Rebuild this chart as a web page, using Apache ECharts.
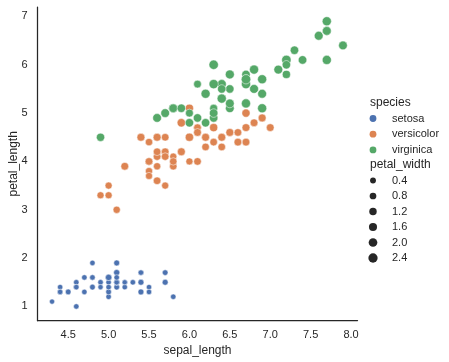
<!DOCTYPE html>
<html><head><meta charset="utf-8">
<script src="https://cdn.jsdelivr.net/npm/echarts@6/dist/echarts.min.js"></script>
<style>html,body{margin:0;padding:0;background:#fff}#c{width:449px;height:362px}</style>
</head><body><div id="c"></div>
<script>
const species = ['setosa', 'versicolor', 'virginica'];
const colors = ['#4c72b0', '#dd8452', '#55a868'];
const xTicks = [4.5, 5.0, 5.5, 6.0, 6.5, 7.0, 7.5, 8.0];
const yTicks = [1, 2, 3, 4, 5, 6, 7];
const sizeLegendValues = [0.4, 0.8, 1.2, 1.6, 2.0, 2.4];

const setosaSepalLength = [5.1,4.9,4.7,4.6,5.0,5.4,4.6,5.0,4.4,4.9,5.4,4.8,4.8,4.3,5.8,5.7,5.4,5.1,5.7,5.1,5.4,5.1,4.6,5.1,4.8,5.0,5.0,5.2,5.2,4.7,4.8,5.4,5.2,5.5,4.9,5.0,5.5,4.9,4.4,5.1,5.0,4.5,4.4,5.0,5.1,4.8,5.1,4.6,5.3,5.0];
const setosaPetalLength = [1.4,1.4,1.3,1.5,1.4,1.7,1.4,1.5,1.4,1.5,1.5,1.6,1.4,1.1,1.2,1.5,1.3,1.4,1.7,1.5,1.7,1.5,1.0,1.7,1.9,1.6,1.6,1.5,1.4,1.6,1.6,1.5,1.5,1.4,1.5,1.2,1.3,1.4,1.3,1.5,1.3,1.3,1.3,1.6,1.9,1.4,1.6,1.4,1.5,1.4];
const setosaPetalWidth = [0.2,0.2,0.2,0.2,0.2,0.4,0.3,0.2,0.2,0.1,0.2,0.2,0.1,0.1,0.2,0.4,0.4,0.3,0.3,0.3,0.2,0.4,0.2,0.5,0.2,0.2,0.4,0.2,0.2,0.2,0.2,0.4,0.1,0.2,0.2,0.2,0.2,0.1,0.2,0.2,0.3,0.3,0.2,0.6,0.4,0.3,0.2,0.2,0.2,0.2];

const versicolorSepalLength = [7.0,6.4,6.9,5.5,6.5,5.7,6.3,4.9,6.6,5.2,5.0,5.9,6.0,6.1,5.6,6.7,5.6,5.8,6.2,5.6,5.9,6.1,6.3,6.1,6.4,6.6,6.8,6.7,6.0,5.7,5.5,5.5,5.8,6.0,5.4,6.0,6.7,6.3,5.6,5.5,5.5,6.1,5.8,5.0,5.6,5.7,5.7,6.2,5.1,5.7];
const versicolorPetalLength = [4.7,4.5,4.9,4.0,4.6,4.5,4.7,3.3,4.6,3.9,3.5,4.2,4.0,4.7,3.6,4.4,4.5,4.1,4.5,3.9,4.8,4.0,4.9,4.7,4.3,4.4,4.8,5.0,4.5,3.5,3.8,3.7,3.9,5.1,4.5,4.5,4.7,4.4,4.1,4.0,4.4,4.6,4.0,3.3,4.2,4.2,4.2,4.3,3.0,4.1];
const versicolorPetalWidth = [1.4,1.5,1.5,1.3,1.5,1.3,1.6,1.0,1.3,1.4,1.0,1.5,1.0,1.4,1.3,1.4,1.5,1.0,1.5,1.1,1.8,1.3,1.5,1.2,1.3,1.4,1.4,1.7,1.5,1.0,1.1,1.0,1.2,1.6,1.5,1.6,1.5,1.3,1.3,1.3,1.2,1.4,1.2,1.0,1.3,1.2,1.3,1.3,1.1,1.3];

const virginicaSepalLength = [6.3,5.8,7.1,6.3,6.5,7.6,4.9,7.3,6.7,7.2,6.5,6.4,6.8,5.7,5.8,6.4,6.5,7.7,7.7,6.0,6.9,5.6,7.7,6.3,6.7,7.2,6.2,6.1,6.4,7.2,7.4,7.9,6.4,6.3,6.1,7.7,6.3,6.4,6.0,6.9,6.7,6.9,5.8,6.8,6.7,6.7,6.3,6.5,6.2,5.9];
const virginicaPetalLength = [6.0,5.1,5.9,5.6,5.8,6.6,4.5,6.3,5.8,6.1,5.1,5.3,5.5,5.0,5.1,5.3,5.5,6.7,6.9,5.0,5.7,4.9,6.7,4.9,5.7,6.0,4.8,4.9,5.6,5.8,6.1,6.4,5.6,5.1,5.6,6.1,5.6,5.5,4.8,5.4,5.6,5.1,5.1,5.9,5.7,5.2,5.0,5.2,5.4,5.1];
const virginicaPetalWidth = [2.5,1.9,2.1,1.8,2.2,2.1,1.7,1.8,1.8,2.5,2.0,1.9,2.1,2.0,2.4,2.3,1.8,2.2,2.3,1.5,2.3,2.0,2.0,1.8,2.1,1.8,1.8,1.8,2.1,1.6,1.9,2.0,2.2,1.5,1.4,2.3,2.4,1.8,1.8,2.1,2.4,2.3,1.9,2.3,2.5,2.3,1.9,2.0,2.3,1.8];

const groups = [
  [setosaSepalLength, setosaPetalLength, setosaPetalWidth],
  [versicolorSepalLength, versicolorPetalLength, versicolorPetalWidth],
  [virginicaSepalLength, virginicaPetalLength, virginicaPetalWidth]
];

const pwMin = 0.1, pwMax = 2.5;
function sizeFor(pw) {
  const area = 18 + (pw - pwMin) / (pwMax - pwMin) * 54;
  return Math.sqrt(area) + 0.9;
}

const FONT = 'Liberation Sans, Arial, sans-serif';
const TXT = '#262626';

const series = groups.map((g, i) => ({
  name: species[i],
  type: 'scatter',
  data: g[0].map((x, k) => [x, g[1][k], g[2][k]]),
  symbolSize: d => sizeFor(d[2]),
  itemStyle: { color: colors[i], borderColor: '#fff', borderWidth: 0.5, opacity: 1 },
  emphasis: { disabled: true },
  z: 2
}));

const legendX = 371, markerX = 373, textX = 392;
const graphics = [];
graphics.push({ type: 'text', x: legendX - 1, y: 103, style: { text: 'species', font: '12px ' + FONT, fill: TXT, textVerticalAlign: 'middle' } });
species.forEach((s, i) => {
  const y = 118.5 + i * 15.7;
  graphics.push({ type: 'circle', shape: { cx: markerX, cy: y, r: 3.4 }, style: { fill: colors[i] } });
  graphics.push({ type: 'text', x: textX, y: y, style: { text: s, font: '11px ' + FONT, fill: TXT, textVerticalAlign: 'middle' } });
});
graphics.push({ type: 'text', x: legendX - 1, y: 165, style: { text: 'petal_width', font: '12px ' + FONT, fill: TXT, textVerticalAlign: 'middle' } });
sizeLegendValues.forEach((v, i) => {
  const y = 180.5 + i * 15.5;
  graphics.push({ type: 'circle', shape: { cx: markerX, cy: y, r: sizeFor(v) / 2 }, style: { fill: '#262626' } });
  graphics.push({ type: 'text', x: textX, y: y, style: { text: v.toFixed(1), font: '11px ' + FONT, fill: TXT, textVerticalAlign: 'middle' } });
});

const chart = echarts.init(document.getElementById('c'), null, { renderer: 'canvas' });
chart.setOption({
  animation: false,
  backgroundColor: '#fff',
  grid: { left: 37.5, top: 7, width: 320, height: 313.7, containLabel: false, outerBoundsMode: 'none' },
  xAxis: {
    type: 'value', min: 4.12, max: 8.08,
    name: 'sepal_length', nameLocation: 'middle', nameGap: 24, nameMoveOverlap: false,
    nameTextStyle: { fontFamily: FONT, fontSize: 12, color: TXT },
    axisLine: { show: true, onZero: false, lineStyle: { color: TXT, width: 1.25 } },
    axisTick: { show: false },
    splitLine: { show: false },
    axisLabel: { customValues: xTicks, formatter: v => v.toFixed(1), fontFamily: FONT, fontSize: 11, color: TXT, margin: 9 }
  },
  yAxis: {
    type: 'value', min: 0.705, max: 7.195,
    name: 'petal_length', nameLocation: 'middle', nameGap: 18, nameMoveOverlap: false,
    nameTextStyle: { fontFamily: FONT, fontSize: 12, color: TXT },
    axisLine: { show: true, onZero: false, lineStyle: { color: TXT, width: 1.25 } },
    axisTick: { show: false },
    splitLine: { show: false },
    axisLabel: { customValues: yTicks, formatter: v => String(v), fontFamily: FONT, fontSize: 11, color: TXT, margin: 10 }
  },
  series: series,
  graphic: graphics
});
</script></body></html>
